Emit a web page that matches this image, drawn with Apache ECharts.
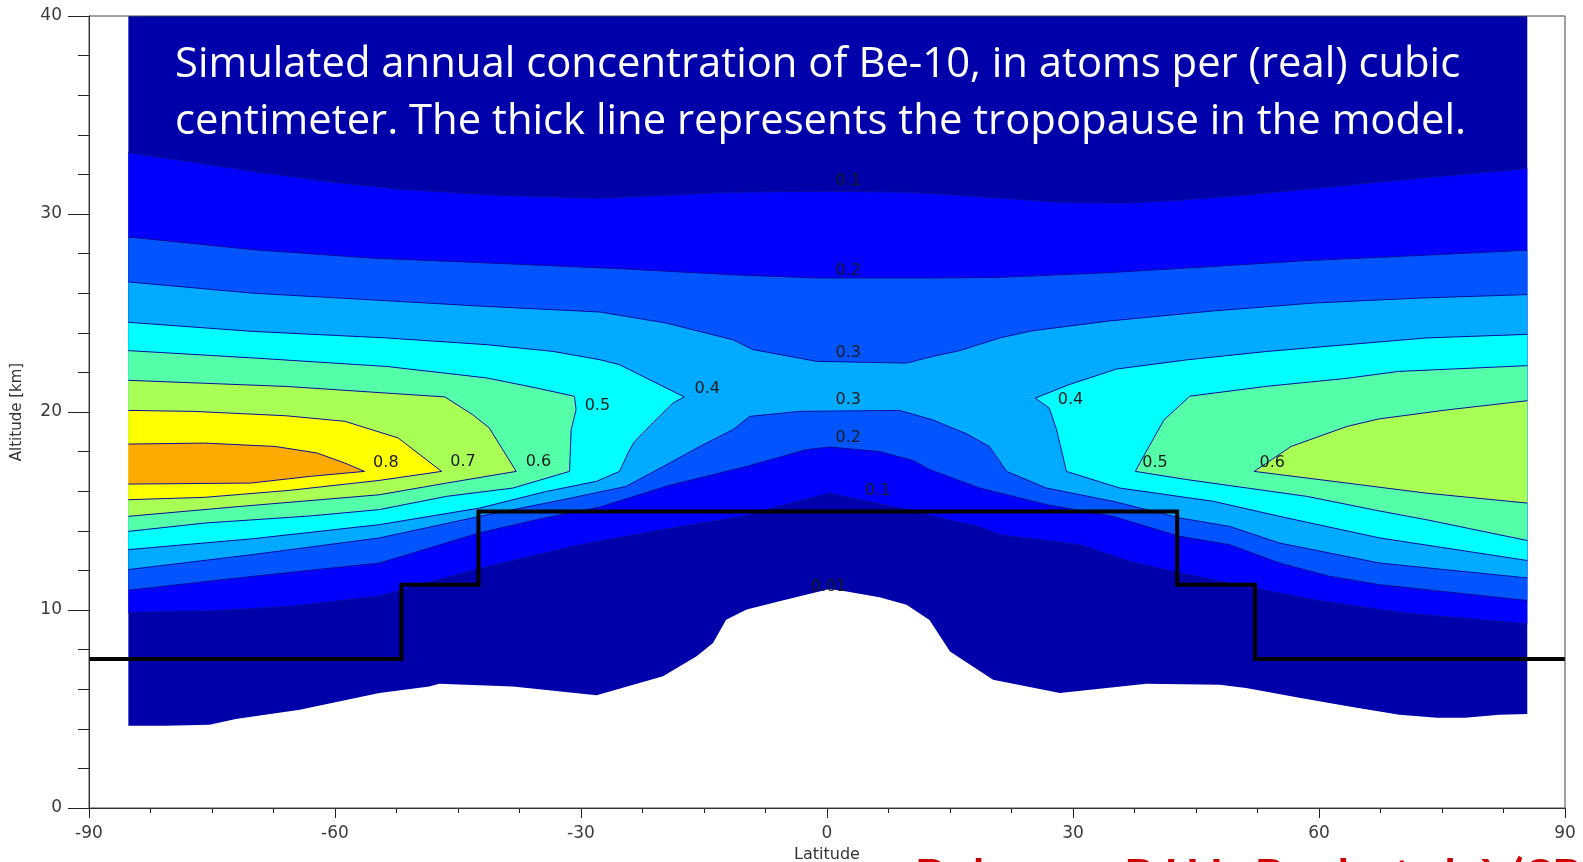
<!DOCTYPE html>
<html>
<head>
<meta charset="utf-8">
<script src="https://cdn.jsdelivr.net/npm/echarts@6/dist/echarts.min.js"></script>
<style>
html,body{margin:0;padding:0;background:#fff;overflow:hidden;}
#chart{width:1583px;height:862px;}
</style>
</head>
<body>
<div id="chart"></div>
<script>
// ---------------- data (latitude [deg], altitude [km]) ----------------
const xTicks = [-90, -60, -30, 0, 30, 60, 90];
const yTicks = [0, 10, 20, 30, 40];

// 0.01 contour (lower edge of data; white below)
const band001Top = [[-85.2, 40], [85.4, 40]];
const c001 = [[-85.2,4.16],[-80.8,4.16],[-75.3,4.2],[-72.1,4.5],[-64.3,4.96],[-54.6,5.81],[-48.5,6.14],[-47.3,6.28],[-38.3,6.14],[-28.1,5.69],[-20.0,6.65],[-15.9,7.66],[-13.9,8.33],[-12.3,9.51],[-9.8,10.02],[-5.8,10.44],[-1.7,10.86],[0.3,11.06],[2.4,10.94],[6.4,10.65],[9.7,10.26],[12.5,9.5],[15.0,7.9],[20.25,6.48],[28.4,5.81],[38.95,6.27],[47.9,6.23],[51.1,6.06],[57.6,5.57],[63.7,5.13],[69.8,4.71],[74.4,4.56],[77.8,4.56],[82.0,4.71],[85.4,4.75]];

// 0.1 contours
const c01Upper = [[-85.2,33.1],[-77,32.6],[-69,32.1],[-60,31.6],[-52,31.25],[-40,30.95],[-28,30.8],[-20,30.95],[-12,31.1],[0,31.15],[10,31.1],[18,30.9],[28,30.6],[36,30.55],[43,30.7],[52,31.0],[62,31.4],[72,31.8],[85.4,32.3]];
const c01Lower = [[-85.2,9.88],[-75,9.95],[-65,10.2],[-54.6,10.7],[-42.35,12.1],[-30,13.3],[-20,14.06],[-10,14.75],[-7.4,15.07],[0.3,15.9],[3,15.65],[8.85,15.15],[12.9,14.73],[18.6,14.2],[21,13.8],[30.8,13.3],[36.9,12.45],[43,11.87],[51.1,11.19],[59.3,10.52],[67.4,10.02],[70,9.86],[85.4,9.3]];

// 0.2 contours
const c02Upper = [[-85.2,28.84],[-70,28.2],[-55.8,27.78],[-41.5,27.53],[-25.3,27.24],[-11.5,26.93],[-1.3,26.77],[12.9,26.77],[21,26.8],[34.5,27.04],[47,27.35],[59.2,27.66],[72,27.9],[85.4,28.17]];
const c02Lower = [[-85.2,11.0],[-70,11.7],[-54.6,12.37],[-42.35,13.9],[-35,14.6],[-27.7,15.2],[-19.2,16.3],[-9.83,17.25],[-2.51,18.1],[0.33,18.23],[6.43,18.0],[10.5,17.55],[12.5,17.1],[18.6,16.16],[26.8,15.32],[34.9,14.73],[43.0,13.72],[49.1,13.3],[55.2,12.37],[61.3,11.7],[67.4,11.28],[85.4,10.48]];

// 0.3 contours
const c03Upper = [[-85.2,26.57],[-70,26.0],[-55.8,25.67],[-41.5,25.33],[-27.7,25.05],[-19.6,24.49],[-11.5,23.65],[-9.0,23.15],[-1.3,22.56],[9.7,22.47],[12.9,22.81],[16.2,23.1],[21.06,23.74],[25,24.1],[34.5,24.6],[47,25.1],[59.2,25.5],[72,25.75],[85.4,25.93]];
const c03Lower = [[-85.2,12.04],[-70,12.8],[-54.6,13.64],[-42.35,14.73],[-32.2,15.57],[-24.5,16.24],[-19.2,17.42],[-15.5,18.26],[-11.5,19.1],[-9.4,19.78],[-3.3,20.03],[8.85,20.08],[12.9,19.6],[17.0,18.9],[19.8,18.26],[21.9,17.0],[26.76,16.16],[34.9,15.49],[43.0,14.65],[49.1,14.22],[55.2,13.38],[67.4,12.37],[85.4,11.62]];

// southern lobes (outline from left edge, round the tip, back to left edge)
const lobe04S = [[-85.2,24.53],[-70,24.07],[-53.7,23.74],[-41.5,23.4],[-33.4,23.06],[-27.7,22.64],[-25.3,22.39],[-24.1,22.14],[-17.4,20.76],[-18.8,20.45],[-21.6,19.3],[-23.5,18.5],[-24.3,17.9],[-25.3,17.0],[-28.1,16.5],[-34.2,15.99],[-42.35,15.15],[-54.6,14.31],[-70,13.6],[-85.2,13.05]];
const lobe05S = [[-85.2,23.1],[-70,22.73],[-53.7,22.3],[-41.5,21.72],[-35.4,21.21],[-30.8,20.79],[-30.6,20.12],[-31.2,19.1],[-31.4,17.0],[-38.3,16.16],[-46.4,15.74],[-54.6,15.07],[-63,14.75],[-75.9,14.39],[-85.2,13.97]];
const lobe06S = [[-85.2,21.6],[-65.9,21.29],[-46.6,20.76],[-43.2,19.86],[-41.2,19.2],[-37.9,17.0],[-46.4,16.41],[-54.6,15.82],[-71.6,15.23],[-85.2,14.73]];
const lobe07S = [[-85.2,20.08],[-77.2,20.03],[-66,19.81],[-58.8,19.53],[-52.3,18.69],[-47.0,17.0],[-54.5,16.55],[-65.6,16.04],[-75.9,15.69],[-85.2,15.57]];
const lobe08S = [[-85.2,18.38],[-75.9,18.43],[-67.3,18.26],[-62.2,17.93],[-58.8,17.42],[-56.4,17.0],[-63.0,16.75],[-70.3,16.41],[-85.2,16.36]];

// northern lobes (outline from right edge, round the tip, back to right edge)
const lobe04N = [[85.4,23.92],[73.1,23.74],[63.4,23.4],[53.7,23.06],[44.0,22.64],[35.3,22.17],[29.5,21.38],[25.4,20.7],[27.1,20.2],[28.0,19.1],[29.2,17.0],[35.7,16.16],[47.1,15.49],[55.2,14.73],[67.4,13.64],[85.4,12.5]];
const lobe05N = [[85.4,22.34],[69.7,22.05],[63.4,21.7],[53.7,21.3],[44.25,20.8],[41.1,19.6],[38.7,17.84],[37.6,17.0],[44.0,16.58],[58.5,15.74],[67.4,15.0],[73.1,14.56],[85.4,13.51]];
const lobe06N = [[85.4,20.57],[75.5,20.1],[67.3,19.65],[63.4,19.27],[56.6,18.26],[52.1,17.0],[63.4,16.41],[73.1,15.9],[85.4,15.4]];

// tropopause (thick line)
const tropLat = [-90,-51.9,-51.9,-42.5,-42.5,42.7,42.7,52.2,52.2,90];
const tropAlt = [7.52,7.52,11.28,11.28,14.98,14.98,11.28,11.28,7.52,7.52];

// contour labels
const labelText = ['0.1','0.2','0.3','0.3','0.2','0.1','0.01','0.4','0.5','0.8','0.7','0.6','0.4','0.5','0.6'];
const labelLat  = [2.6, 2.6, 2.6, 2.6, 2.6, 6.2, 0.2, -14.6, -28.0, -53.8, -44.4, -35.2, 29.7, 40.0, 54.3];
const labelAlt  = [31.65, 27.15, 22.98, 20.59, 18.69, 16.04, 11.19, 21.18, 20.32, 17.45, 17.47, 17.47, 20.6, 17.42, 17.42];

const titleLines = ['Simulated annual concentration of Be-10, in atoms per (real) cubic',
                    'centimeter. The thick line represents the tropopause in the model.'];
const creditText = 'Delaygue, B.H.L. Bard, et al. à (CB';

// ---------------- styles ----------------
const COL = {
  b001: '#0000AA', b01: '#0000FF', b02: '#0055FF', b03: '#00AAFF',
  b04: '#00FFFF', b05: '#55FFAA', b06: '#AAFF55', b07: '#FFFF00', b08: '#FFAA00'
};
const LINE_COL = '#0c0c9c';

function band(upper, lower) { return upper.concat(lower.slice().reverse()); }

function polySeries(pts, color, z) {
  return {
    type: 'custom', coordinateSystem: 'cartesian2d', silent: true, z: z,
    data: [[pts[0][0], pts[0][1]]],
    renderItem: function (params, api) {
      return { type: 'polygon', shape: { points: pts.map(p => api.coord(p)) },
               style: { fill: color, stroke: null } };
    }
  };
}
function lineSeries(pts, z) {
  return {
    type: 'custom', coordinateSystem: 'cartesian2d', silent: true, z: z,
    data: [[pts[0][0], pts[0][1]]],
    renderItem: function (params, api) {
      return { type: 'polyline', shape: { points: pts.map(p => api.coord(p)) },
               style: { fill: null, stroke: LINE_COL, lineWidth: 1 } };
    }
  };
}

const series = [];
series.push(polySeries(band(band001Top, c001), COL.b001, 1));
series.push(polySeries(band(c01Upper, c01Lower), COL.b01, 1));
series.push(polySeries(band(c02Upper, c02Lower), COL.b02, 1));
series.push(polySeries(band(c03Upper, c03Lower), COL.b03, 1));
series.push(polySeries(lobe04S, COL.b04, 1));
series.push(polySeries(lobe04N, COL.b04, 1));
series.push(polySeries(lobe05S, COL.b05, 1));
series.push(polySeries(lobe05N, COL.b05, 1));
series.push(polySeries(lobe06S, COL.b06, 1));
series.push(polySeries(lobe06N, COL.b06, 1));
series.push(polySeries(lobe07S, COL.b07, 1));
series.push(polySeries(lobe08S, COL.b08, 1));
[c01Upper, c01Lower, c02Upper, c02Lower, c03Upper, c03Lower,
 lobe04S, lobe04N, lobe05S, lobe05N, lobe06S, lobe06N, lobe07S, lobe08S]
  .forEach(l => series.push(lineSeries(l, 2)));

series.push({
  type: 'line', silent: true, z: 4, symbol: 'none', animation: false,
  data: tropLat.map((v, i) => [v, tropAlt[i]]),
  lineStyle: { color: '#000', width: 4, join: 'miter' }
});

series.push({
  type: 'custom', coordinateSystem: 'cartesian2d', silent: true, z: 5,
  data: labelText.map((t, i) => [labelLat[i], labelAlt[i], i]),
  renderItem: function (params, api) {
    const p = api.coord([api.value(0), api.value(1)]);
    return { type: 'text', x: p[0], y: p[1],
             style: { text: labelText[api.value(2)], fill: '#1a1a1a',
                      font: '16px "DejaVu Sans"', align: 'center', verticalAlign: 'middle' } };
  }
});

const axisFont = { fontFamily: 'DejaVu Sans', fontSize: 17, color: '#3a3a3a' };

const option = {
  animation: false,
  backgroundColor: '#ffffff',
  grid: { left: 89, right: 18, top: 16, bottom: 54, show: true, z: 10,
          containLabel: false, outerBoundsMode: 'none',
          borderColor: '#444', borderWidth: 1, backgroundColor: 'transparent' },
  xAxis: {
    type: 'value', min: xTicks[0], max: xTicks[xTicks.length - 1], interval: 30,
    name: 'Latitude', nameLocation: 'middle', nameGap: 39,
    nameTextStyle: { fontFamily: 'DejaVu Sans', fontSize: 16, color: '#333' },
    axisLine: { show: true, onZero: false, lineStyle: { color: '#222', width: 1 } },
    axisTick: { show: true, length: 10, lineStyle: { color: '#222', width: 1 } },
    minorTick: { show: true, splitNumber: 4, length: 5, lineStyle: { color: '#222', width: 1 } },
    splitLine: { show: false },
    axisLabel: Object.assign({ margin: 17 }, axisFont)
  },
  yAxis: {
    type: 'value', min: yTicks[0], max: yTicks[yTicks.length - 1], interval: 10,
    name: 'Altitude [km]', nameLocation: 'middle', nameGap: 64, nameRotate: 90,
    nameTextStyle: { fontFamily: 'DejaVu Sans', fontSize: 15, color: '#333' },
    axisLine: { show: true, onZero: false, lineStyle: { color: '#222', width: 1 } },
    axisTick: { show: true, length: 21, lineStyle: { color: '#222', width: 1 } },
    minorTick: { show: true, splitNumber: 5, length: 11, lineStyle: { color: '#222', width: 1 } },
    splitLine: { show: false },
    axisLabel: Object.assign({ margin: 27 }, axisFont)
  },
  graphic: [
    { type: 'text', x: 175, y: 65.5, z: 100, silent: true,
      style: { text: titleLines[0], fill: '#ffffff', font: '41.8px "Open Sans"', verticalAlign: 'middle' } },
    { type: 'text', x: 175, y: 122.5, z: 100, silent: true,
      style: { text: titleLines[1], fill: '#ffffff', font: '41.8px "Open Sans"', verticalAlign: 'middle' } },
    { type: 'text', x: 915, y: 877, z: 100, silent: true,
      style: { text: creditText, fill: '#cc0000', font: 'bold 45px Lato', verticalAlign: 'middle' } }
  ],
  series: series
};

const chart = echarts.init(document.getElementById('chart'), null, { renderer: 'canvas' });
chart.setOption(option);
</script>
</body>
</html>
